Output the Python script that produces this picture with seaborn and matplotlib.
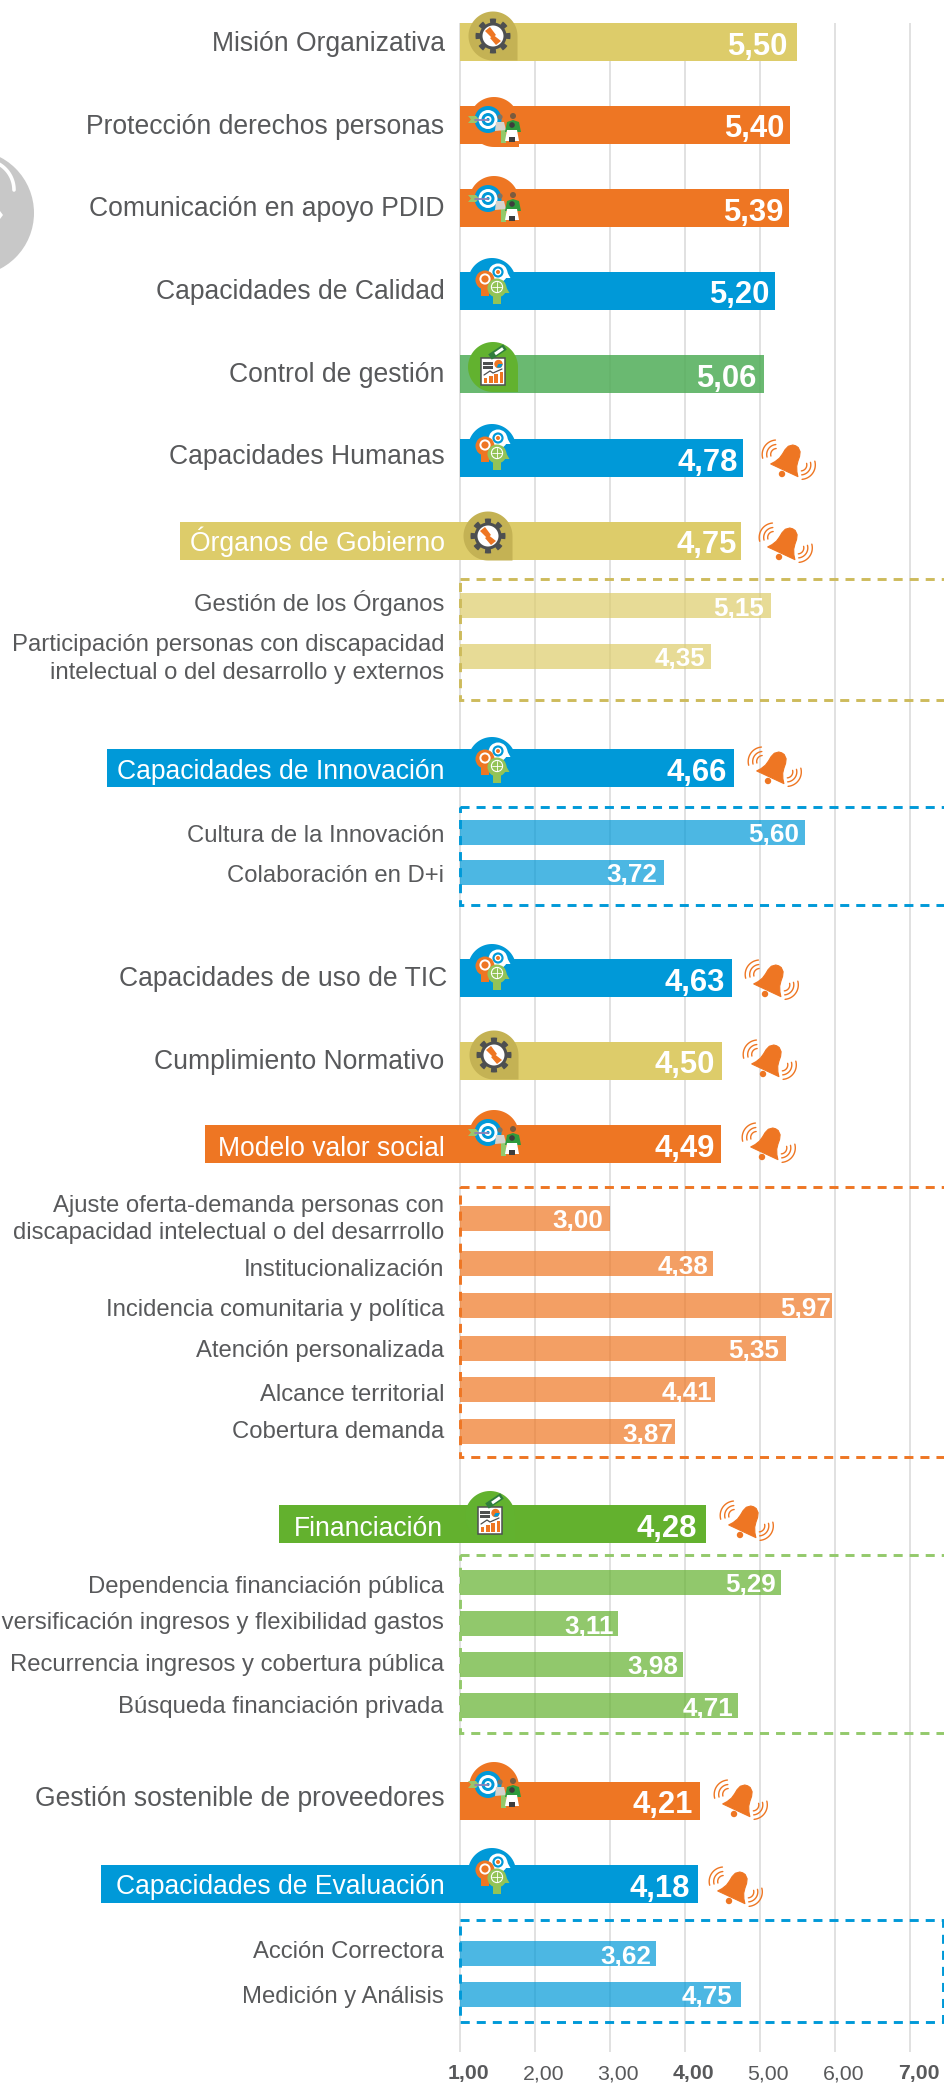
import numpy as np
import pandas as pd
import seaborn as sns
import matplotlib
matplotlib.use("Agg")
import matplotlib.pyplot as plt
from matplotlib.patches import Circle, Polygon, Rectangle

# ==========================
# DATA
# ==========================
main_labels = ["Misión Organizativa", "Protección derechos personas", "Comunicación en apoyo PDID",
               "Capacidades de Calidad", "Control de gestión", "Capacidades Humanas",
               "Órganos de Gobierno", "Capacidades de Innovación", "Capacidades de uso de TIC",
               "Cumplimiento Normativo", "Modelo valor social", "Financiación",
               "Gestión sostenible de proveedores", "Capacidades de Evaluación"]
main_values = [5.50, 5.40, 5.39, 5.20, 5.06, 4.78, 4.75, 4.66, 4.63, 4.50, 4.49, 4.28, 4.21, 4.18]
main_groups = ["gobierno", "social", "social", "capacidades", "control", "capacidades", "gobierno",
               "capacidades", "capacidades", "gobierno", "social", "financiacion", "social", "capacidades"]

sub_labels = ["Gestión de los Órganos",
              "Participación personas con discapacidad\nintelectual o del desarrollo y externos",
              "Cultura de la Innovación", "Colaboración en D+i",
              "Ajuste oferta-demanda personas con\ndiscapacidad intelectual o del desarrrollo",
              "Institucionalización", "Incidencia comunitaria y política", "Atención personalizada",
              "Alcance territorial", "Cobertura demanda",
              "Dependencia financiación pública", "Diversificación ingresos y flexibilidad gastos",
              "Recurrencia ingresos y cobertura pública", "Búsqueda financiación privada",
              "Acción Correctora", "Medición y Análisis"]
sub_values = [5.15, 4.35, 5.60, 3.72, 3.00, 4.38, 5.97, 5.35, 4.41, 3.87, 5.29, 3.11, 3.98, 4.71, 3.62, 4.75]
sub_groups = ["gobierno"] * 2 + ["capacidades"] * 2 + ["social"] * 6 + ["financiacion"] * 4 + ["capacidades"] * 2

tick_values = [1, 2, 3, 4, 5, 6, 7]
bold_ticks = [1, 4, 7]
header_labels = ["Órganos de Gobierno", "Capacidades de Innovación", "Modelo valor social",
                 "Financiación", "Capacidades de Evaluación"]

# ==========================
# LAYOUT (pixels of the 944x2085 picture)
# ==========================
main_rows = [42, 125, 208, 291, 374, 458, 541, 768, 978, 1061, 1144, 1524, 1801, 1884]
main_text_rows = [41, 124, 206, 289, 372, 454, 539, 769, 976, 1059, 1146, 1526, 1796, 1884]
main_text_right = [444.5] * 8 + [447] + [444.5] * 2 + [443] + [444.5] * 2
main_value_gap = [9.6, 5.4, 5.4, 5.4, 8, 5.4, 4.2, 7, 6.6, 7, 7, 8.4, 7.8, 7.8]
header_pads = [9.5, 10, 13, 14.5, 15]
sub_rows = [605.5, 656.5, 832.5, 872.5, 1218.5, 1263.5, 1305.5, 1348.5, 1389.5, 1431.5,
            1582.5, 1623.5, 1664.5, 1705.5, 1953.5, 1994.5]
sub_text_rows = [602, 657.5, 835, 875, 1218, 1268, 1308.5, 1350, 1393.5, 1431,
                 1585, 1621, 1664, 1706, 1951, 1996]
sub_value_gap = [6.6, 5.4, 6, 7, 6, 4.8, 1.8, 6.6, 3, 1.8, 6, 3.6, 5.4, 4.8, 4.8, 8.4]
boxes = [(579, 700, "gobierno"), (807, 904.5, "capacidades"), (1186.5, 1456.5, "social"),
         (1555, 1733, "financiacion"), (1920, 2022, "capacidades")]
icons = [("gear", 493, 11), ("target", 494, 97), ("target", 494, 176), ("heads", 492, 258),
         ("chart", 493, 342), ("heads", 492, 424), ("gear", 488, 511), ("heads", 492, 737),
         ("heads", 492, 944), ("gear", 494, 1030), ("target", 494, 1110), ("chart", 490, 1491),
         ("target", 494, 1762), ("heads", 492, 1848)]
bells = [(787, 459), (784, 542), (773, 766), (770, 979), (768, 1059), (767, 1142),
         (745, 1520), (739, 1799), (734, 1886)]

W, H = 944, 2085
X1_PX = 459.5      # where value 1 sits
UNIT_PX = 75.05    # one unit of the scale

colors = {"gobierno": "#ddcc6a", "social": "#ee7623", "capacidades": "#0099d8",
          "financiacion": "#63b12e", "control": "#50ad58d9"}
box_colors = {"gobierno": "#cdbb5c", "social": "#ee7623", "capacidades": "#0099d8",
              "financiacion": "#93c96b"}
TEXT = "#58595b"
DARK = "#4d4f50"
ORANGE = "#ee7623"

sns.set_theme(style="white")
plt.rcParams["font.family"] = ["Liberation Sans", "DejaVu Sans"]

fig = plt.figure(figsize=(W / 100, H / 100), dpi=100)
ax = fig.add_axes([0, 0, 1, 1])
px = fig.add_axes([0, 0, 1, 1], zorder=5)  # second axes in plain pixels, for the icons


def fmt(v):
    return f"{v:.2f}".replace(".", ",")


def x_to_val(x):
    return 1 + (x - X1_PX) / UNIT_PX


# ==========================
# BARS
# ==========================
main_df = pd.DataFrame({"fila": main_rows, "desde_1": np.array(main_values) - 1, "grupo": main_groups})
sub_df = pd.DataFrame({"fila": sub_rows, "desde_1": np.array(sub_values) - 1, "grupo": sub_groups})

# barh gets left=1, so the bars grow from the 1,00 line and not from zero
sns.barplot(data=sub_df, x="desde_1", y="fila", hue="grupo", orient="y", native_scale=True,
            palette=colors, dodge=False, saturation=1, errorbar=None, legend=False,
            width=25 / np.diff(np.unique(sub_rows)).min(), left=1, alpha=0.7, zorder=3,
            linewidth=0, ax=ax)
sns.barplot(data=main_df, x="desde_1", y="fila", hue="grupo", orient="y", native_scale=True,
            palette=colors, dodge=False, saturation=1, errorbar=None, legend=False,
            width=38 / np.diff(np.unique(main_rows)).min(), left=1, zorder=3,
            linewidth=0, ax=ax)

ax.set_xlim(x_to_val(0), x_to_val(W))
ax.set_ylim(H, 0)
ax.set_axis_off()
px.set_xlim(0, W)
px.set_ylim(H, 0)
px.set_axis_off()

# grid
ax.vlines(tick_values, 23, 2052, color="#d9d9d9", lw=1.1, zorder=1)
for t in tick_values:
    ax.text(t + 0.116, 2074, fmt(t), ha="center", va="center", fontsize=15.3,
            color=TEXT, fontweight="bold" if t in bold_ticks else "normal")

# dashed boxes, only the last one closes on the right
for top, bottom, group in boxes:
    closed = top == boxes[-1][0]
    right = W - 1 if closed else W + 20
    px.add_patch(Rectangle((X1_PX, top), right - X1_PX, bottom - top, fill=False, lw=2.1,
                           edgecolor=box_colors[group], linestyle=(0, (3.1, 2.4))))

# ==========================
# TEXT
# ==========================
renderer = fig.canvas.get_renderer()
for label, value, row, text_row, right, gap, group in zip(main_labels, main_values, main_rows, main_text_rows,
                                                          main_text_right, main_value_gap, main_groups):
    is_header = label in header_labels
    t = ax.text(x_to_val(right), text_row + 2.7, label, ha="right", va="center", fontsize=19.1,
                color="white" if is_header else TEXT, zorder=6)
    if is_header:
        # the coloured band behind the label runs from the text to the bar
        pad = header_pads[header_labels.index(label)]
        left = x_to_val(t.get_window_extent(renderer).x0 - pad)
        ax.barh(row, 1 - left, left=left, height=38, color=colors[group], zorder=3, linewidth=0)
    ax.text(value - gap / UNIT_PX, row + 4.5, fmt(value), ha="right", va="center", fontsize=22.3,
            fontweight="bold", color="white", zorder=6)

for label, value, row, text_row, gap in zip(sub_labels, sub_values, sub_rows, sub_text_rows, sub_value_gap):
    ax.text(x_to_val(444), text_row + 1.5, label, ha="right", va="center", fontsize=17.2, color=TEXT,
            linespacing=1.35, zorder=6)
    ax.text(value - gap / UNIT_PX, row + 3, fmt(value), ha="right", va="center", fontsize=18.7,
            fontweight="bold", color="white", zorder=6)


# ==========================
# ICONS
# ==========================
def arc(cx, cy, r, a0, a1, color, lw):
    t = np.radians(np.linspace(a0, a1, 30))
    px.plot(cx + r * np.cos(t), cy - r * np.sin(t), color=color, lw=lw, solid_capstyle="round")


def drop(cx, cy, r, color):
    # circle with a square corner at the lower right
    t = np.radians(np.linspace(0, 270, 60))
    pts = np.column_stack([cx + r * np.cos(t), cy - r * np.sin(t)])
    pts = np.vstack([pts, [cx + r, cy + r]])
    px.add_patch(Polygon(pts, closed=True, facecolor=color, edgecolor="none"))


def gear_icon(cx, top):
    cy = top + 25
    drop(cx, cy, 24.5, "#c4b254")
    t = np.linspace(0, 2 * np.pi, 241)
    r = np.where(np.cos(8 * t) > -0.1, 17.5, 13.5)
    px.add_patch(Polygon(np.column_stack([cx + r * np.cos(t), cy + r * np.sin(t)]), facecolor=DARK, edgecolor="none"))
    px.add_patch(Circle((cx, cy), 10.5, facecolor="white", edgecolor="none"))
    # two hands
    px.add_patch(Polygon([(cx - 8, cy - 5), (cx - 3, cy - 9), (cx + 3, cy - 1), (cx - 1, cy + 2)],
                         facecolor=ORANGE, edgecolor="none"))
    px.add_patch(Polygon([(cx + 8, cy + 5), (cx + 3, cy + 9), (cx - 3, cy + 2), (cx + 1, cy - 0.5)],
                         facecolor=ORANGE, edgecolor="none"))


def target_icon(cx, top):
    drop(cx, top + 25, 25, ORANGE)
    x0, y0 = cx - 6, top + 22.5
    for r, c in [(13.5, "#0099d8"), (9.5, "white"), (6.5, "#0099d8"), (3.5, "white"), (1.6, "#0099d8")]:
        px.add_patch(Circle((x0, y0), r, facecolor=c, edgecolor="none"))
    px.plot([cx - 19, x0], [y0, y0], color="#8e7fb5", lw=1.3)
    px.add_patch(Polygon([(cx - 26, y0 - 3.5), (cx - 18, y0 - 3.5), (cx - 15, y0), (cx - 18, y0 + 3.5),
                          (cx - 26, y0 + 3.5), (cx - 23, y0)], facecolor="#9cc46a", edgecolor="none"))
    # people
    px.add_patch(Rectangle((cx + 7, top + 31), 5, 15, facecolor="#93c96b", edgecolor="none"))
    px.add_patch(Circle((cx + 6, top + 20), 2.6, facecolor="#7c7468", edgecolor="none"))
    px.add_patch(Polygon([(cx + 1, top + 34), (cx + 2, top + 25), (cx + 10, top + 25), (cx + 12, top + 33)],
                         facecolor="#d5d2cc", edgecolor="none"))
    px.add_patch(Circle((cx + 19, top + 19), 3, facecolor="#7a5b3e", edgecolor="none"))
    px.add_patch(Polygon([(cx + 11, top + 35), (cx + 13, top + 25), (cx + 19, top + 23), (cx + 25, top + 25),
                          (cx + 27, top + 35)], facecolor="#2f9a3c", edgecolor="none"))
    px.add_patch(Circle((cx + 18, top + 28), 2.8, facecolor="#3d3d3d", edgecolor="none"))
    px.add_patch(Polygon([(cx + 11, top + 44), (cx + 13, top + 33), (cx + 23, top + 33), (cx + 25, top + 44)],
                         facecolor="white", edgecolor="none"))
    px.add_patch(Rectangle((cx + 15, top + 40), 6, 5, facecolor="#3d3d3d", edgecolor="none"))


def head(x, y, r, color, neck_down, neck_w):
    px.add_patch(Polygon([(x - neck_w, y), (x + neck_w, y), (x + neck_w, y + neck_down), (x - neck_w, y + neck_down)],
                         facecolor=color, edgecolor="none"))
    px.add_patch(Circle((x, y), r, facecolor=color, edgecolor="none"))
    px.add_patch(Polygon([(x + r - 1, y - 2), (x + r + 3, y + 5), (x + r - 2, y + 5)], facecolor=color, edgecolor="none"))


def heads_icon(cx, top):
    drop(cx, top + 24, 24, "#0099d8")
    head(cx + 6, top + 15, 9.5, "white", 16, 4)
    px.add_patch(Circle((cx + 6, top + 14), 5.6, facecolor="#0099d8", edgecolor="none"))
    px.add_patch(Circle((cx + 6, top + 14), 3.4, facecolor="white", edgecolor="none"))
    px.add_patch(Circle((cx + 6, top + 14), 2, facecolor=ORANGE, edgecolor="none"))
    head(cx - 7, top + 22, 9.5, ORANGE, 16, 4)
    px.add_patch(Circle((cx - 7, top + 21), 5.6, facecolor="white", edgecolor="none"))
    px.add_patch(Circle((cx - 7, top + 21), 3.6, facecolor=ORANGE, edgecolor="none"))
    head(cx + 5, top + 30, 9.5, "#93c357", 16, 4)
    px.add_patch(Circle((cx + 5, top + 29), 5.6, facecolor="none", edgecolor="white", lw=0.8))
    px.plot([cx + 5, cx + 5], [top + 24, top + 34], color="white", lw=0.6)
    px.plot([cx, cx + 10], [top + 29, top + 29], color="white", lw=0.6)


def chart_icon(cx, top):
    drop(cx, top + 25, 25, "#62b22f")
    left, up = cx - 12, top + 16
    # pencil
    px.plot([cx - 3, cx + 12], [top + 15, top + 5], color="#2f7d3c", lw=4.6, solid_capstyle="butt")
    px.plot([cx + 2, cx + 10], [top + 12, top + 6.5], color="white", lw=2.2, solid_capstyle="butt")
    px.add_patch(Rectangle((left, up), 24, 27, facecolor="white", edgecolor=DARK, lw=1.1))
    px.add_patch(Rectangle((left + 2, up + 4), 10, 2.6, facecolor=DARK, edgecolor="none"))
    px.add_patch(Rectangle((left + 2, up + 8), 10, 2.6, facecolor=DARK, edgecolor="none"))
    px.add_patch(Circle((left + 17.5, up + 6), 4.2, facecolor=ORANGE, edgecolor="none"))
    px.add_patch(Polygon([(left + 17.5, up + 6), (left + 21.7, up + 6), (left + 20, up + 9.5), (left + 15.5, up + 9.5)],
                         facecolor="#0099d8", edgecolor="none"))
    px.plot([left + 3, left + 9, left + 12, left + 21], [up + 17, up + 13, up + 15, up + 11], color=DARK, lw=0.9)
    for i, h in enumerate([5, 7.5, 9, 11]):
        px.add_patch(Rectangle((left + 3 + i * 5.2, up + 25 - h), 3.4, h, facecolor=ORANGE, edgecolor="none"))


def bell_icon(cx, cy):
    a = np.radians(25)
    half = [(0, 14), (3, 13.5), (6.5, 10.5), (8, 6), (8.5, 1), (9.5, -4), (12, -9), (15, -13)]
    shape = np.array(half + [(-x, y) for x, y in half[:0:-1]])
    xs = cx + 2.8 + shape[:, 0] * np.cos(a) + shape[:, 1] * np.sin(a)
    ys = cy - 0.5 - (-shape[:, 0] * np.sin(a) + shape[:, 1] * np.cos(a))
    px.add_patch(Polygon(np.column_stack([xs, ys]), facecolor=ORANGE, edgecolor=ORANGE, lw=0.8, joinstyle="round"))
    px.add_patch(Circle((cx - 5, cy + 15), 3.2, facecolor=ORANGE, edgecolor="none"))
    for r in [6, 10, 14.5]:
        arc(cx - 10.3, cy - 4.5, r, 95, 195, ORANGE, 1.0)
        arc(cx + 13.8, cy + 5.9, r, -85, 15, ORANGE, 1.0)


drawers = {"gear": gear_icon, "target": target_icon, "heads": heads_icon, "chart": chart_icon}
for kind, cx, top in icons:
    drawers[kind](cx, top)
for cx, cy in bells:
    bell_icon(cx, cy)

# grey disc cut by the left edge
px.add_patch(Circle((-29, 213), 63, facecolor="#c8c8c8", edgecolor="none"))
arc(-16, 190, 30, 0, 90, "white", 2.6)
px.add_patch(Polygon([(0, 211), (3, 215), (0, 219)], facecolor="white", edgecolor="none"))

fig.savefig("out.png", dpi=100)
